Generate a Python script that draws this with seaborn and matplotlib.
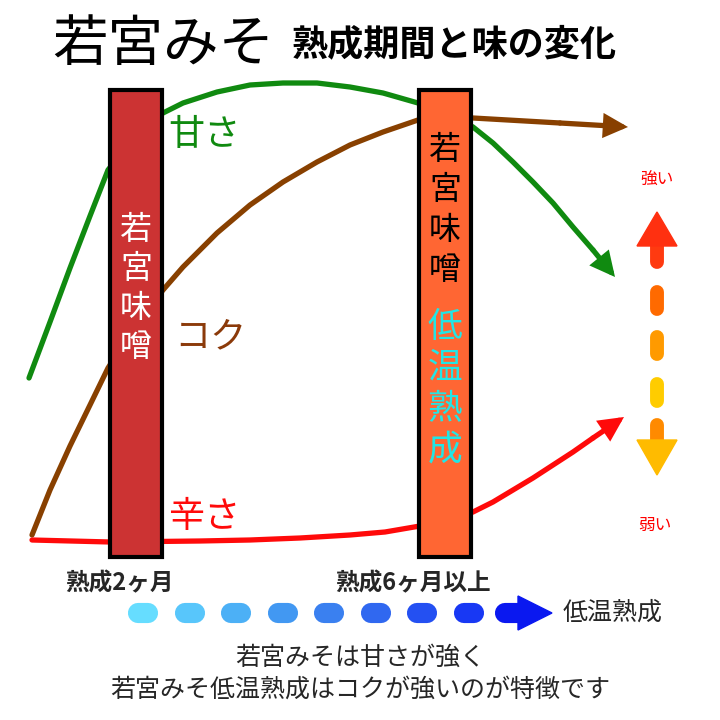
import numpy as np
import pandas as pd
import matplotlib.pyplot as plt
import seaborn as sns

# Curve data (x, y in pixel space of the 720x720 canvas)
sweet_x = [29, 50, 70, 90, 108, 136, 163, 183, 217, 250, 283, 317, 350, 383, 418, 445, 473, 493, 513, 533, 553, 573, 593, 615]
sweet_y = [378, 322, 268, 216, 170, 135, 113, 103, 92, 85, 83, 83, 87, 93, 103, 112, 127, 143, 162, 182, 203, 227, 250, 277]
koku_x = [32, 50, 70, 90, 108, 136, 163, 183, 217, 250, 283, 317, 350, 383, 418, 445, 473, 560, 628]
koku_y = [535, 490, 446, 405, 368, 325, 290, 267, 233, 205, 182, 162, 145, 132, 120, 118, 118, 123, 127]
salty_x = [32, 110, 200, 250, 300, 350, 385, 420, 445, 473, 493, 513, 533, 553, 573, 593, 624]
salty_y = [540, 542, 541, 540, 538, 535, 532, 526, 520, 512, 502, 490, 478, 465, 452, 438, 417]

taste_names = ["甘さ", "コク", "辛さ"]
taste_colors = ["#108a10", "#884000", "#ff0a0a"]

bar_names = ["若宮味噌", "若宮味噌"]
bar_sub = ["", "低温熟成"]
bar_colors = ["#cc3333", "#ff6633"]
period_labels = ["熟成2ヶ月", "熟成6ヶ月以上"]

blue_dots = ["#66ddff", "#58c6fb", "#4cb0f6", "#4298f2", "#3a80f0", "#3068f0", "#2450f2", "#1838f4"]

sns.set_theme(style="white")
plt.rcParams['font.family'] = ['Noto Sans CJK JP', 'DejaVu Sans']

fig = plt.figure(figsize=(7.2, 7.2), dpi=100)
ax = fig.add_axes([0, 0, 1, 1])

# taste curves
curves = [(sweet_x, sweet_y), (koku_x, koku_y), (salty_x, salty_y)]
for (cx, cy), col in zip(curves, taste_colors):
    df = pd.DataFrame({'x': cx[:-1], 'y': cy[:-1]})
    sns.lineplot(data=df, x='x', y='y', ax=ax, color=col, lw=3.8, sort=False, zorder=2)
    ax.annotate('', xy=(cx[-1], cy[-1]), xytext=(cx[-2], cy[-2]),
                arrowprops=dict(arrowstyle='-|>,head_length=1.0,head_width=0.5', color=col, lw=3.8,
                                shrinkA=0, shrinkB=0, joinstyle='miter'),
                zorder=2)
ax.set_xlim(0, 720)
ax.set_ylim(720, 0)
ax.axis('off')

# the two miso bars
ax.bar([136, 445], [467, 467], bottom=90, width=52, color=bar_colors, edgecolor='black', linewidth=3, zorder=3)

for i, ch in enumerate(bar_names[0]):
    ax.text(136, 230 + i * 39, ch, color='white', fontsize=23, ha='center', va='center', zorder=4)
for i, ch in enumerate(bar_names[1]):
    ax.text(445, 150 + i * 40, ch, color='black', fontsize=23, ha='center', va='center', zorder=4)
for i, ch in enumerate(bar_sub[1]):
    ax.text(445, 327 + i * 41, ch, color='#22e5e5', fontsize=25, ha='center', va='center', zorder=4)

# taste labels
ax.text(168, 135, taste_names[0], color=taste_colors[0], fontsize=26, va='center', ha='left')
ax.text(174, 337, taste_names[1], color='#8b3a0a', fontsize=26, va='center', ha='left')
ax.text(168, 517, taste_names[2], color=taste_colors[2], fontsize=26, va='center', ha='left')

# title
ax.text(52, 45, "若宮みそ", fontsize=40, va='center', ha='left', color='black')
ax.text(292, 45, "熟成期間と味の変化", fontsize=26, fontweight='bold', va='center', ha='left', color='black')

# strength scale on the right
ax.text(657, 180, "強い", color='red', fontsize=12, ha='center', va='center')
ax.text(655, 525, "弱い", color='red', fontsize=12, ha='center', va='center')
ax.fill([637, 657, 677], [246, 212, 246], color='#ff3010', zorder=3)
ax.plot([657, 657], [244, 262], color='#ff3a10', lw=10, solid_capstyle='round')
dash_cols = ['#ff6a00', '#ff9a00', '#ffcc00']
for y0, col in zip([292, 337, 384], dash_cols):
    ax.plot([657, 657], [y0, y0 + 17], color=col, lw=10, solid_capstyle='round')
ax.plot([657, 657], [425, 442], color='#ff8a00', lw=10, solid_capstyle='round')
ax.fill([637, 657, 677], [440, 475, 440], color='#ffbb00', zorder=3)

# period labels
ax.text(65, 583, period_labels[0], fontsize=17, fontweight='bold', va='center', ha='left')
ax.text(335, 583, period_labels[1], fontsize=17, fontweight='bold', va='center', ha='left')

# blue dotted arrow
for i, col in enumerate(blue_dots):
    xc = 143 + i * 46.5
    ax.plot([xc - 5, xc + 5], [613, 613], color=col, lw=14.5, solid_capstyle='round')
ax.plot([505, 520], [613, 613], color='#0a18f0', lw=14.5, solid_capstyle='round')
ax.fill([518, 552, 518], [596, 613, 630], color='#0a18f0')
ax.text(563, 613, "低温熟成", fontsize=18, va='center', ha='left')

# bottom note
ax.text(360, 658, "若宮みそは甘さが強く", fontsize=18, ha='center', va='center')
ax.text(360, 690, "若宮みそ低温熟成はコクが強いのが特徴です", fontsize=18, ha='center', va='center')

plt.savefig('out.png', dpi=100)
